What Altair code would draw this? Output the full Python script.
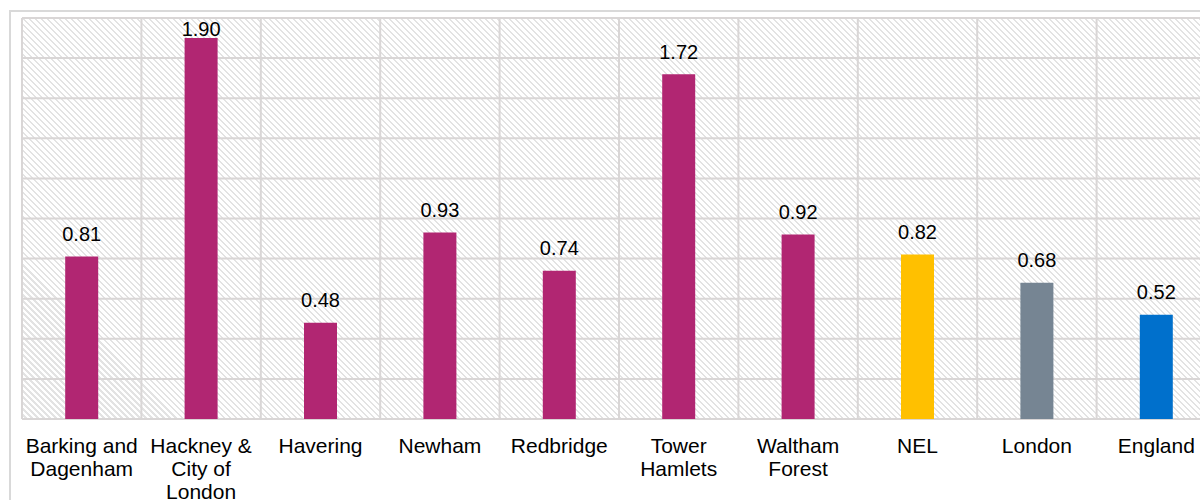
import altair as alt
import pandas as pd

categories = [
    "Barking and\nDagenham",
    "Hackney &\nCity of\nLondon",
    "Havering",
    "Newham",
    "Redbridge",
    "Tower\nHamlets",
    "Waltham\nForest",
    "NEL",
    "London",
    "England",
]
values = [0.81, 1.90, 0.48, 0.93, 0.74, 1.72, 0.92, 0.82, 0.68, 0.52]
bar_colors = ["#B12672"] * 7 + ["#FFC000", "#768593", "#0070CC"]
grid_values = [0.0, 0.2, 0.4, 0.6, 0.8, 1.0, 1.2, 1.4, 1.6, 1.8, 2.0]

W, H = 1178, 401          # visible plot area (the last band runs past the page edge)
RANGE_END = 1194          # full band range (10 x ~119.4 px)
FONT = "Liberation Sans"
GRID = "#d9d6d6"

df = pd.DataFrame({"cat": categories, "value": values})
grid_df = pd.DataFrame({"g": grid_values})
one = pd.DataFrame({"k": [0]})

# diagonal hatch ("\\\\") built as a striped linear gradient
r = H / W
k = (1 + r) / (1 + r * r)
n_stripes = round((W + H) / 6)
stripe_frac = 0.35
white, gray = "#ffffff", "#e3e3e3"
stops = []
for i in range(n_stripes):
    a = i / n_stripes
    b = (i + 1 - stripe_frac) / n_stripes
    c = (i + 1) / n_stripes
    stops += [
        alt.GradientStop(offset=a, color=white),
        alt.GradientStop(offset=b, color=white),
        alt.GradientStop(offset=b, color=gray),
        alt.GradientStop(offset=c, color=gray),
    ]
hatch = alt.LinearGradient(gradient="linear", stops=stops, x1=0, y1=1, x2=k, y2=1 - k * r)

x_scale = alt.Scale(domain=categories, range=[0, RANGE_END], paddingInner=0, paddingOuter=0)
y_scale = alt.Scale(domain=[0, 2], nice=False, zero=True)
x_axis = alt.Axis(
    title=None,
    labelExpr="split(datum.label, '\\n')",
    labelFont=FONT,
    labelFontSize=21,
    labelColor="#000000",
    labelPadding=16,
    labelLineHeight=23,
    labelAngle=0,
    ticks=False,
    tickSize=0,
    domain=False,
    grid=False,
)

background = alt.Chart(one).mark_rect(fill=hatch, strokeWidth=0).encode(
    x=alt.value(0), x2=alt.value(W), y=alt.value(0), y2=alt.value(H)
)

border = alt.Chart(one).mark_rect(filled=False, stroke="#d9d9d9", strokeWidth=2).encode(
    x=alt.value(-12), x2=alt.value(1400), y=alt.value(-7), y2=alt.value(700)
)

hgrid = alt.Chart(grid_df).mark_rule(color=GRID, strokeWidth=2).encode(
    y=alt.Y("g:Q", scale=y_scale, axis=None)
)

vgrid = alt.Chart(df).mark_rule(color=GRID, strokeWidth=2).encode(
    x=alt.X("cat:N", scale=x_scale, axis=x_axis, sort=None, bandPosition=0)
)

bars = alt.Chart(df).mark_bar(size=33).encode(
    x=alt.X("cat:N", scale=x_scale, axis=x_axis, sort=None),
    y=alt.Y("value:Q", scale=y_scale, axis=None),
    color=alt.Color("cat:N", scale=alt.Scale(domain=categories, range=bar_colors), legend=None),
)

labels = alt.Chart(df).transform_calculate(
    label_y="min(datum.value + 0.077, 1.912)"
).mark_text(font=FONT, fontSize=20, color="#000000", baseline="alphabetic", align="center").encode(
    x=alt.X("cat:N", scale=x_scale, axis=x_axis, sort=None),
    y=alt.Y("label_y:Q", scale=y_scale, axis=None),
    text=alt.Text("value:Q", format=".2f"),
)

chart = alt.layer(background, border, hgrid, vgrid, bars, labels).properties(
    width=W,
    height=H,
    autosize=alt.AutoSizeParams(type="none"),
    padding={"left": 22, "top": 18, "right": 0, "bottom": 81},
).configure_view(strokeWidth=0)

chart.save("out.html", embed_options={"renderer": "svg", "actions": False})
